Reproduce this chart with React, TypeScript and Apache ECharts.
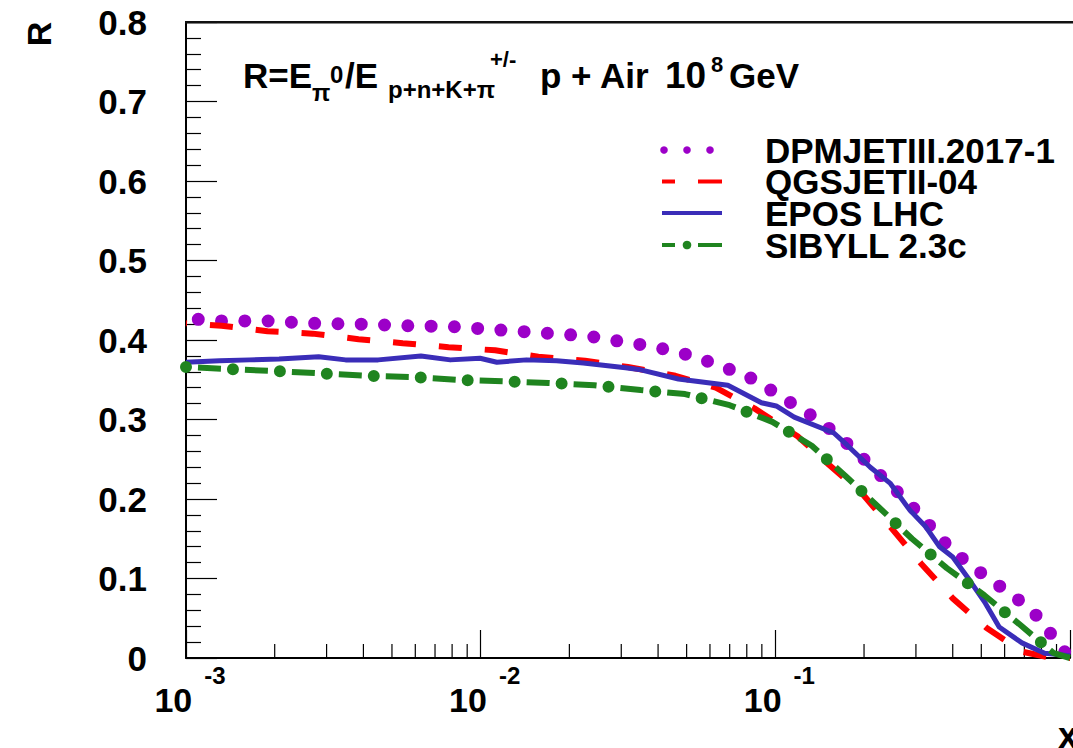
import React, { useEffect, useRef } from "react";
import * as echarts from "echarts";

const FONT = '"Liberation Sans", Arial, Helvetica, sans-serif';
const PURPLE = "#9c00c8";
const RED = "#ff0000";
const BLUE = "#3a2db8";
const GREEN = "#1f841f";

// DPMJETIII.2017-1
const dpmX = [0.001, 0.0011, 0.00132, 0.00187, 0.00267, 0.00385, 0.00548, 0.00789, 0.0112, 0.0161, 0.0232, 0.0277, 0.0328, 0.0392, 0.0465, 0.0556, 0.0658, 0.0774, 0.0912, 0.106, 0.123, 0.143, 0.164, 0.189, 0.213, 0.242, 0.275, 0.312, 0.35, 0.396, 0.456, 0.524, 0.612, 0.708, 0.802, 0.881, 0.973];
const dpmY = [0.427, 0.426, 0.424, 0.424, 0.421, 0.42, 0.418, 0.417, 0.413, 0.409, 0.405, 0.4, 0.396, 0.391, 0.385, 0.377, 0.366, 0.358, 0.343, 0.327, 0.313, 0.297, 0.279, 0.259, 0.24, 0.22, 0.2, 0.179, 0.158, 0.136, 0.118, 0.101, 0.084, 0.066, 0.047, 0.025, 0.005];

// QGSJETII-04
const qgsX = [0.001, 0.00132, 0.00189, 0.00269, 0.00385, 0.00544, 0.00778, 0.0112, 0.0157, 0.0226, 0.0316, 0.0458, 0.0628, 0.0849, 0.119, 0.15, 0.199, 0.247, 0.312, 0.4, 0.52, 0.687, 0.867, 1];
const qgsY = [0.421, 0.418, 0.411, 0.408, 0.401, 0.396, 0.391, 0.387, 0.379, 0.374, 0.366, 0.355, 0.34, 0.314, 0.279, 0.245, 0.205, 0.164, 0.119, 0.075, 0.038, 0.008, 0.0, 0.0];

// EPOS LHC
const eposX = [0.001, 0.0013, 0.00164, 0.00207, 0.00282, 0.00348, 0.00449, 0.00627, 0.00789, 0.00995, 0.01135, 0.0143, 0.0181, 0.0223, 0.031, 0.0344, 0.0469, 0.069, 0.0897, 0.1007, 0.1159, 0.158, 0.175, 0.21, 0.245, 0.286, 0.324, 0.361, 0.4, 0.456, 0.516, 0.575, 0.687, 0.82, 1];
const eposY = [0.372, 0.374, 0.375, 0.376, 0.379, 0.375, 0.375, 0.38, 0.375, 0.377, 0.372, 0.375, 0.374, 0.371, 0.365, 0.363, 0.351, 0.343, 0.321, 0.317, 0.303, 0.283, 0.268, 0.24, 0.22, 0.186, 0.165, 0.14, 0.127, 0.098, 0.069, 0.039, 0.019, 0.006, 0.003];

// SIBYLL 2.3c
const sibX = [0.001, 0.00138, 0.00199, 0.00286, 0.00406, 0.00579, 0.00828, 0.0119, 0.017, 0.0243, 0.0349, 0.0494, 0.07, 0.0977, 0.133, 0.173, 0.224, 0.291, 0.382, 0.512, 0.671, 0.881, 1];
const sibY = [0.366, 0.3635, 0.361, 0.358, 0.355, 0.3535, 0.35, 0.348, 0.346, 0.343, 0.337, 0.332, 0.318, 0.297, 0.267, 0.229, 0.19, 0.15, 0.113, 0.079, 0.043, 0.006, 0.0];

// minor ticks of the log x axis
const minorX = [0.002, 0.003, 0.004, 0.005, 0.006, 0.007, 0.008, 0.009, 0.02, 0.03, 0.04, 0.05, 0.06, 0.07, 0.08, 0.09, 0.2, 0.3, 0.4, 0.5, 0.6, 0.7, 0.8, 0.9];

const legendNames = ["DPMJETIII.2017-1", "QGSJETII-04", "EPOS LHC", "SIBYLL 2.3c"];

const zip = (xs: number[], ys: number[]) => xs.map((x, i) => [x, ys[i]]);

function txt(text: string, x: number, y: number, size: number, extra: any = {}) {
  return {
    type: "text",
    x,
    y,
    silent: true,
    ...extra,
    style: {
      text,
      fontSize: size,
      fontWeight: "bold",
      fontFamily: FONT,
      fill: "#000",
      align: extra.align || "left",
      verticalAlign: "middle",
    },
  };
}

export default function App() {
  const ref = useRef<HTMLDivElement>(null);
  useEffect(() => {
    if (!ref.current) return;
    const chart = echarts.init(ref.current, undefined, { renderer: "svg" });
    const rows = [150, 181.5, 213, 245];
    const graphic: any[] = [
      // frame top
      { type: "rect", shape: { x: 185, y: 21, width: 900, height: 2.5 }, style: { fill: "#111" }, silent: true, z: 10 },
      // title
      txt("R=E", 243, 75, 35),
      txt("π", 312, 92, 24),
      txt("0", 330, 74, 24),
      txt("/E", 345, 75, 35),
      txt("p+n+K+π", 388, 89, 24),
      txt("+/-", 490, 59, 22),
      txt("p + Air", 540, 75, 35),
      txt("10", 665, 75, 37),
      txt("8", 711, 64, 22),
      txt("GeV", 729, 75, 35),
      // axis titles
      { ...txt("R", 0, 0, 34, { align: "center" }), x: 39, y: 34, rotation: Math.PI / 2 },
      txt("x", 1058, 735, 36),
      // legend samples
      { type: "circle", shape: { cx: 664, cy: rows[0], r: 3.8 }, style: { fill: PURPLE }, silent: true },
      { type: "circle", shape: { cx: 687, cy: rows[0], r: 3.8 }, style: { fill: PURPLE }, silent: true },
      { type: "circle", shape: { cx: 710, cy: rows[0], r: 3.8 }, style: { fill: PURPLE }, silent: true },
      { type: "line", shape: { x1: 662, y1: rows[1], x2: 675, y2: rows[1] }, style: { stroke: RED, lineWidth: 4 }, silent: true },
      { type: "line", shape: { x1: 698, y1: rows[1], x2: 722, y2: rows[1] }, style: { stroke: RED, lineWidth: 4 }, silent: true },
      { type: "line", shape: { x1: 662, y1: rows[2], x2: 722, y2: rows[2] }, style: { stroke: BLUE, lineWidth: 4 }, silent: true },
      { type: "line", shape: { x1: 662, y1: rows[3], x2: 675, y2: rows[3] }, style: { stroke: GREEN, lineWidth: 4 }, silent: true },
      { type: "circle", shape: { cx: 687, cy: rows[3], r: 4.3 }, style: { fill: GREEN }, silent: true },
      { type: "line", shape: { x1: 698, y1: rows[3], x2: 722, y2: rows[3] }, style: { stroke: GREEN, lineWidth: 4 }, silent: true },
      ...legendNames.map((n, i) => txt(n, 765, rows[i], 35)),
    ];

    chart.setOption({
      animation: false,
      backgroundColor: "#fff",
      grid: { left: 186, top: 22, right: -7, bottom: 90, show: false },
      xAxis: {
        type: "log",
        logBase: 10,
        min: 0.001,
        max: 1,
        axisLine: { onZero: false, lineStyle: { color: "#000", width: 2 } },
        axisTick: { inside: true, length: 28, lineStyle: { color: "#000", width: 1.2 } },
        splitLine: { show: false },
        axisLabel: {
          margin: 5,
          formatter: (v: number) => {
            const e = Math.round(Math.log10(v));
            if (e >= 0) return "";
            return `{b|10}{s|${e}}`;
          },
          rich: {
            b: { fontSize: 34, fontWeight: "bold", fontFamily: FONT, color: "#000", lineHeight: 74, padding: [0, 0, 0, 8] },
            s: { fontSize: 24, fontWeight: "bold", fontFamily: FONT, color: "#000", lineHeight: 20, verticalAlign: "top", padding: [0, 0, 0, 12] },
          },
        },
      },
      yAxis: {
        type: "value",
        min: 0,
        max: 0.8,
        interval: 0.1,
        axisLine: { show: true, onZero: false, lineStyle: { color: "#000", width: 2 } },
        axisTick: { inside: true, length: 31, lineStyle: { color: "#000", width: 1.2 } },
        minorTick: { show: true, splitNumber: 5, length: 15, lineStyle: { color: "#000", width: 1.2 } },
        splitLine: { show: false },
        axisLabel: {
          margin: 39,
          fontSize: 35,
          fontWeight: "bold",
          fontFamily: FONT,
          color: "#000",
          formatter: (v: number) => (Math.abs(v) < 1e-9 ? "0" : v.toFixed(1)),
        },
      },
      graphic,
      series: [
        {
          type: "custom",
          name: "minor",
          silent: true,
          z: 1,
          encode: { x: 0, y: 1 },
          data: minorX.map((x) => [x, 0]),
          renderItem: (_p: any, api: any) => {
            const pt = api.coord([api.value(0), api.value(1)]);
            return { type: "line", shape: { x1: pt[0], y1: pt[1], x2: pt[0], y2: pt[1] - 14 }, style: { stroke: "#000", lineWidth: 1.2 } };
          },
        },
        {
          type: "line",
          name: legendNames[0],
          data: zip(dpmX, dpmY),
          showSymbol: false,
          symbol: "none",
          z: 2,
          lineStyle: { color: PURPLE, width: 13, type: [0, 23.3], dashOffset: 11, cap: "round" },
        },
        {
          type: "line",
          name: legendNames[1],
          data: zip(qgsX, qgsY),
          showSymbol: false,
          symbol: "none",
          z: 3,
          lineStyle: { color: RED, width: 6, type: [23, 23], dashOffset: 22 },
        },
        {
          type: "line",
          name: legendNames[2],
          data: zip(eposX, eposY),
          showSymbol: false,
          symbol: "none",
          z: 4,
          lineStyle: { color: BLUE, width: 5, type: "solid", join: "round" },
        },
        {
          type: "line",
          name: legendNames[3],
          data: zip(sibX, sibY),
          showSymbol: false,
          symbol: "none",
          z: 5,
          lineStyle: { color: GREEN, width: 6, type: [23, 24], dashOffset: 35 },
        },
        {
          type: "line",
          name: legendNames[3] + " dots",
          data: zip(sibX, sibY),
          showSymbol: false,
          symbol: "none",
          z: 5,
          lineStyle: { color: GREEN, width: 12, type: [0, 47], dashOffset: 0, cap: "round" },
        },
      ],
    });
    return () => chart.dispose();
  }, []);
  return <div ref={ref} style={{ position: "fixed", left: 0, top: 0, width: 1073, height: 748, background: "#fff" }} />;
}
